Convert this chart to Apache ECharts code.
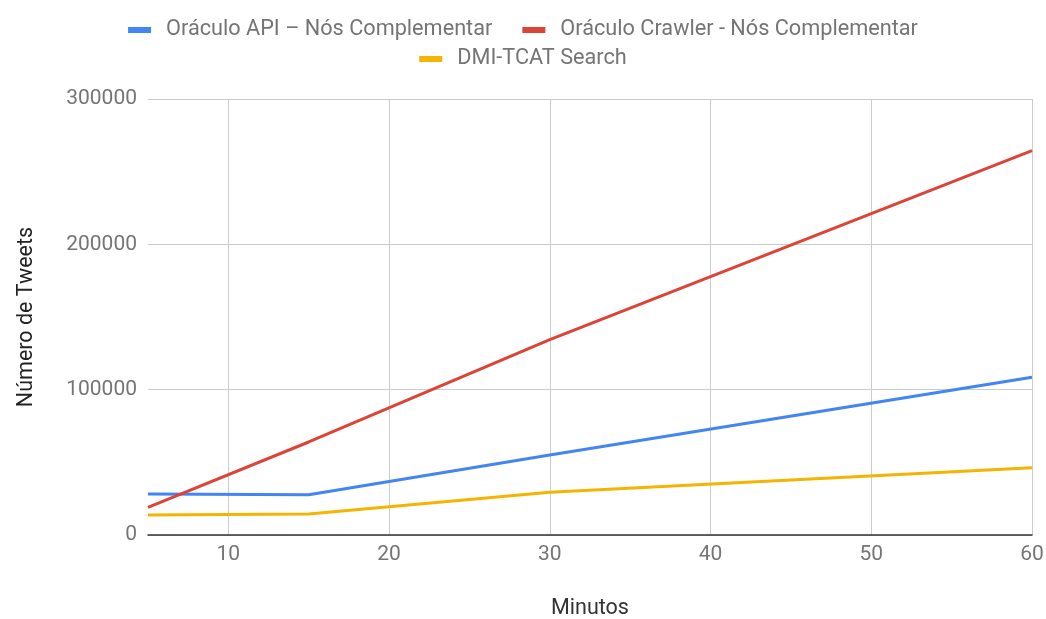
<!DOCTYPE html>
<html>
<head>
<meta charset="utf-8">
<script src="https://cdn.jsdelivr.net/npm/echarts@6/dist/echarts.min.js"></script>
<style>
  html, body { margin: 0; padding: 0; background: #fff; overflow: hidden; }
  #chart { width: 1046px; height: 619px; }
</style>
</head>
<body>
<div id="chart"></div>
<script>
// Minutes of collection and tweets gathered by each method
const minutos = [5, 15, 30, 60];
const apiComplementar = [28200, 27700, 55000, 108500];
const crawlerComplementar = [19000, 64000, 134500, 264500];
const dmiTcat = [13800, 14500, 29400, 46300];

const xTicks = [10, 20, 30, 40, 50, 60];
const seriesNames = ['Oráculo API – Nós Complementar', 'Oráculo Crawler - Nós Complementar', 'DMI-TCAT Search'];
const seriesColors = ['#4285F4', '#DB4437', '#F4B400'];

const FONT = 'Roboto';
const pairs = (xs, ys) => xs.map((x, i) => [x, ys[i]]);

const chart = echarts.init(document.getElementById('chart'), null, { renderer: 'canvas', width: 1046, height: 619 });

const legendBase = {
  orient: 'horizontal',
  left: 'center',
  icon: 'rect',
  itemWidth: 23,
  itemHeight: 6,
  itemGap: 30,
  textStyle: { fontFamily: FONT, fontSize: 21.7, color: '#757575', padding: [0, 0, 0, 10] }
};

chart.setOption({
  animation: false,
  backgroundColor: '#ffffff',
  color: seriesColors,
  legend: [
    Object.assign({}, legendBase, { top: 14, data: [seriesNames[0], seriesNames[1]] }),
    Object.assign({}, legendBase, { top: 43, data: [seriesNames[2]] })
  ],
  // plot box fixed in pixels; labels and names sit outside it
  grid: { left: 148, right: 14, top: 99, bottom: 84, containLabel: false, outerBoundsMode: 'none' },
  xAxis: {
    type: 'value',
    min: 5,
    max: 60,
    name: 'Minutos',
    nameLocation: 'middle',
    nameGap: 63,
    nameTextStyle: { fontFamily: FONT, fontSize: 21.5, color: '#333333' },
    axisLine: { show: true, onZero: false, lineStyle: { color: '#333333', width: 1.5 } },
    axisTick: { show: false, customValues: xTicks },
    axisLabel: { customValues: xTicks, fontFamily: FONT, fontSize: 21, color: '#757575', margin: 9 },
    splitLine: { show: true, lineStyle: { color: '#cccccc', width: 1 } }
  },
  yAxis: {
    type: 'value',
    min: 0,
    max: 300000,
    interval: 100000,
    name: 'Número de Tweets',
    nameLocation: 'middle',
    nameGap: 110,
    nameRotate: 90,
    nameTextStyle: { fontFamily: FONT, fontSize: 21.5, color: '#222222' },
    axisLine: { show: false },
    axisTick: { show: false },
    axisLabel: {
      fontFamily: FONT, fontSize: 21, color: '#757575', margin: 11,
      formatter: v => String(v)
    },
    splitLine: { show: true, lineStyle: { color: '#cccccc', width: 1 } }
  },
  series: [
    { name: seriesNames[0], type: 'line', data: pairs(minutos, apiComplementar) },
    { name: seriesNames[1], type: 'line', data: pairs(minutos, crawlerComplementar) },
    { name: seriesNames[2], type: 'line', data: pairs(minutos, dmiTcat) }
  ].map(s => Object.assign(s, {
    showSymbol: false,
    symbol: 'none',
    lineStyle: { width: 3 },
    emphasis: { disabled: true }
  }))
});
</script>
</body>
</html>
